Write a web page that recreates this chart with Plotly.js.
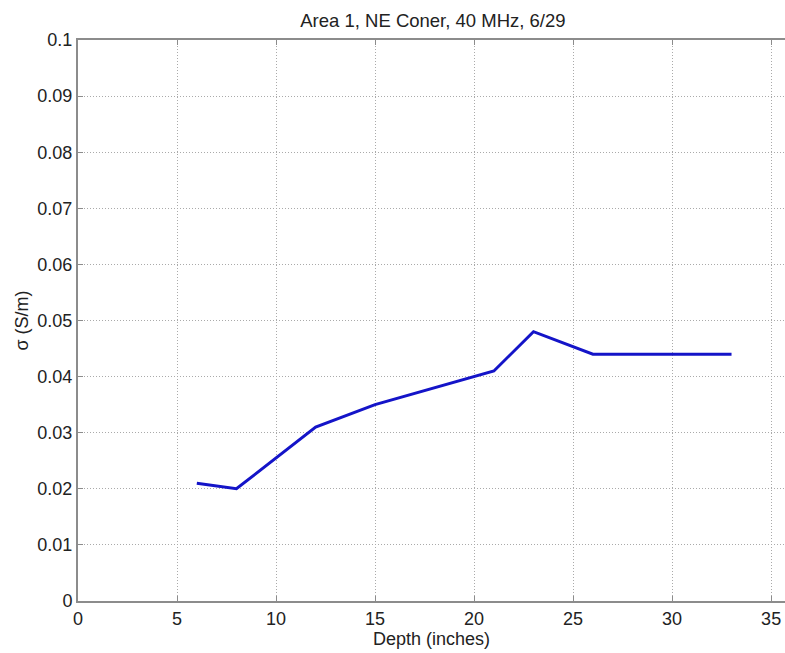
<!DOCTYPE html>
<html>
<head>
<meta charset="utf-8">
<script src="https://cdn.plot.ly/plotly-3.0.1.min.js"></script>
<style>html,body{margin:0;padding:0;background:#fff;}#chart{width:785px;height:653px;}</style>
</head>
<body>
<div id="chart"></div>
<script>
const depth = [6, 8, 12, 15, 21, 23, 26, 33];
const sigma = [0.021, 0.020, 0.031, 0.035, 0.041, 0.048, 0.044, 0.044];
const xTicks = [0, 5, 10, 15, 20, 25, 30, 35];
const yTicks = [0, 0.01, 0.02, 0.03, 0.04, 0.05, 0.06, 0.07, 0.08, 0.09, 0.1];

const font = {family: 'Liberation Sans, Arial, sans-serif', size: 18, color: '#222'};

Plotly.newPlot('chart', [{
  x: depth, y: sigma, type: 'scatter', mode: 'lines',
  line: {color: '#1414c8', width: 3},
  hoverinfo: 'none'
}], {
  width: 785, height: 653,
  margin: {l: 78, r: 0, t: 40, b: 52},
  paper_bgcolor: '#fff', plot_bgcolor: '#fff',
  showlegend: false,
  font: font,
  title: {text: 'Area 1, NE Coner, 40 MHz, 6/29', x: 0.502, xref: 'paper', y: 0.968, yref: 'container', yanchor: 'middle', font: {family: font.family, size: 18.5, color: '#222'}},
  xaxis: {
    range: [0, 35.7], tickvals: xTicks, ticktext: xTicks.map(String),
    showline: true, linecolor: '#8c8c8c', linewidth: 2, mirror: 'ticks',
    ticks: 'inside', ticklen: 5, tickcolor: '#8c8c8c', tickwidth: 1,
    showgrid: true, gridcolor: '#aaaaaa', griddash: '1px,2px', gridwidth: 1,
    zeroline: false, tickfont: {size: 18},
    title: {text: 'Depth (inches)', standoff: 2, font: {size: 18}}
  },
  yaxis: {
    range: [0, 0.1], tickvals: yTicks, ticktext: yTicks.map(v => String(+v.toFixed(2))),
    showline: true, linecolor: '#8c8c8c', linewidth: 2,
    ticks: 'inside', ticklen: 5, tickcolor: '#8c8c8c', tickwidth: 1,
    showgrid: true, gridcolor: '#aaaaaa', griddash: '1px,2px', gridwidth: 1,
    zeroline: false, tickfont: {size: 18},
    title: {text: 'σ (S/m)', standoff: 4, font: {size: 18}}
  }
}, {staticPlot: true});
</script>
</body>
</html>
